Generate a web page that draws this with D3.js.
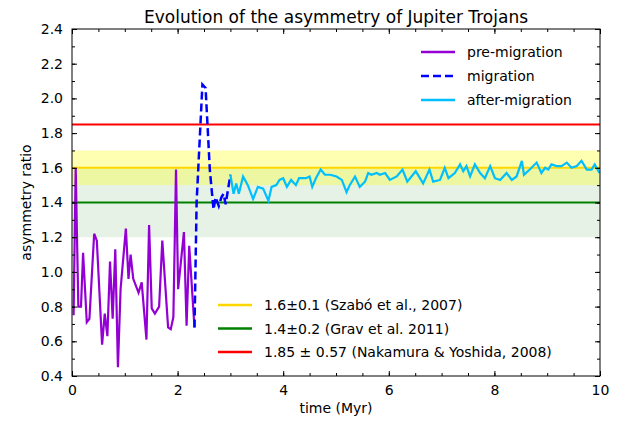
<!DOCTYPE html><html><head><meta charset="utf-8"><script src="https://cdn.jsdelivr.net/npm/d3@7"></script>
<style>body{margin:0;background:#fff}text{font-family:"DejaVu Sans",sans-serif}</style></head><body><svg id="c" width="630" height="421"></svg>
<script>
const preT=[0.03,0.07,0.12,0.17,0.21,0.28,0.33,0.42,0.47,0.57,0.62,0.67,0.72,0.77,0.82,0.87,0.92,1.02,1.07,1.11,1.16,1.26,1.32,1.41,1.46,1.51,1.57,1.65,1.71,1.82,1.87,1.92,1.97,2.01,2.12,2.17,2.22,2.32];
const preV=[0.75,1.60,0.80,0.80,1.11,0.71,0.73,1.22,1.18,0.58,0.76,0.63,1.06,0.73,1.13,0.45,0.90,1.25,0.96,1.10,0.96,0.88,0.94,0.61,1.27,0.79,0.76,0.80,1.18,0.68,0.67,0.74,1.59,0.90,1.23,0.69,1.15,0.68];
const migT=[2.32,2.36,2.47,2.53,2.61,2.68,2.72,2.78,2.83,2.87,2.91,3.00];
const migV=[0.68,1.40,2.08,2.06,1.59,1.36,1.43,1.38,1.43,1.45,1.39,1.56];
const aftT=[3.00,3.06,3.11,3.16,3.24,3.33,3.43,3.52,3.62,3.72,3.78,3.87,3.93,4.00,4.07,4.15,4.24,4.30,4.43,4.50,4.55,4.62,4.71,4.79,4.89,5.01,5.11,5.20,5.26,5.36,5.45,5.55,5.61,5.67,5.77,5.83,5.93,6.02,6.15,6.26,6.35,6.51,6.65,6.77,6.84,6.97,7.06,7.13,7.25,7.35,7.41,7.47,7.54,7.63,7.73,7.82,7.92,8.01,8.11,8.23,8.33,8.42,8.52,8.56,8.67,8.80,8.89,8.96,9.02,9.08,9.18,9.27,9.37,9.46,9.56,9.65,9.75,9.84,9.90,9.99];
const aftV=[1.56,1.45,1.51,1.45,1.55,1.50,1.42,1.49,1.48,1.41,1.49,1.50,1.53,1.54,1.49,1.53,1.50,1.54,1.54,1.55,1.49,1.54,1.59,1.56,1.56,1.55,1.53,1.46,1.50,1.55,1.49,1.52,1.57,1.56,1.57,1.56,1.57,1.53,1.55,1.59,1.52,1.58,1.51,1.59,1.52,1.53,1.60,1.54,1.57,1.62,1.58,1.61,1.55,1.62,1.57,1.54,1.61,1.54,1.53,1.57,1.53,1.55,1.64,1.56,1.59,1.63,1.57,1.60,1.59,1.62,1.61,1.61,1.63,1.60,1.61,1.64,1.59,1.59,1.62,1.57];
const refVals=[1.6,1.4,1.85];
const refErr=[0.1,0.2,null];
const refLabels=["1.6±0.1 (Szabó et al., 2007)","1.4±0.2 (Grav et al. 2011)","1.85 ± 0.57 (Nakamura & Yoshida, 2008)"];
const refColors=["#ffd700","green","red"];
const bandColors=["rgba(255,255,0,0.3)","rgba(0,128,0,0.1)"];
const L=72,R=600,T=29,B=376;
const svg=d3.select("#c");
const x=d3.scaleLinear().domain([0,10]).range([L,R]);
const y=d3.scaleLinear().domain([0.4,2.4]).range([B,T]);
[1,0].forEach(i=>svg.append("rect").attr("x",L).attr("width",R-L).attr("y",y(refVals[i]+refErr[i])).attr("height",y(refVals[i]-refErr[i])-y(refVals[i]+refErr[i])).attr("fill",bandColors[i]));
refVals.forEach((v,i)=>svg.append("line").attr("x1",L).attr("x2",R).attr("y1",y(v)).attr("y2",y(v)).attr("stroke",refColors[i]).attr("stroke-width",2));
const line=d3.line().x(d=>x(d[0])).y(d=>y(d[1]));
svg.append("path").attr("d",line(d3.zip(preT,preV))).attr("fill","none").attr("stroke","#9400d3").attr("stroke-width",2.2);
svg.append("path").attr("d",line(d3.zip(migT,migV))).attr("fill","none").attr("stroke","#0000ff").attr("stroke-width",2.5).attr("stroke-dasharray","8,4");
svg.append("path").attr("d",line(d3.zip(aftT,aftV))).attr("fill","none").attr("stroke","#00bfff").attr("stroke-width",2.2);
const FS=14;
svg.append("g").attr("transform",`translate(0,${B})`).call(d3.axisBottom(x).tickValues(d3.range(0,10.01,2)).tickSizeInner(-5).tickSizeOuter(0).tickPadding(9)).call(g=>{g.select(".domain").remove();g.selectAll("text").attr("font-size",FS);});
svg.append("g").attr("transform",`translate(0,${B})`).call(d3.axisBottom(x).tickValues(d3.range(0,10.01,0.5)).tickSizeInner(-3).tickSizeOuter(0).tickFormat("")).select(".domain").remove();
svg.append("g").attr("transform",`translate(0,${T})`).call(d3.axisTop(x).tickValues(d3.range(0,10.01,2)).tickSizeInner(-5).tickSizeOuter(0).tickFormat("")).select(".domain").remove();
svg.append("g").attr("transform",`translate(0,${T})`).call(d3.axisTop(x).tickValues(d3.range(0,10.01,0.5)).tickSizeInner(-3).tickSizeOuter(0).tickFormat("")).select(".domain").remove();
svg.append("g").attr("transform",`translate(${L},0)`).call(d3.axisLeft(y).tickValues(d3.range(0.4,2.41,0.2)).tickSizeInner(-5).tickSizeOuter(0).tickPadding(9).tickFormat(d3.format(".1f"))).call(g=>{g.select(".domain").remove();g.selectAll("text").attr("font-size",FS);});
svg.append("g").attr("transform",`translate(${L},0)`).call(d3.axisLeft(y).tickValues(d3.range(0.4,2.41,0.1)).tickSizeInner(-3).tickSizeOuter(0).tickFormat("")).select(".domain").remove();
svg.append("g").attr("transform",`translate(${R},0)`).call(d3.axisRight(y).tickValues(d3.range(0.4,2.41,0.2)).tickSizeInner(-5).tickSizeOuter(0).tickFormat("")).select(".domain").remove();
svg.append("g").attr("transform",`translate(${R},0)`).call(d3.axisRight(y).tickValues(d3.range(0.4,2.41,0.1)).tickSizeInner(-3).tickSizeOuter(0).tickFormat("")).select(".domain").remove();
svg.append("rect").attr("x",L).attr("y",T).attr("width",R-L).attr("height",B-T).attr("fill","none").attr("stroke","#000");
svg.append("text").attr("x",(L+R)/2).attr("y",23).attr("text-anchor","middle").attr("font-size",17).text("Evolution of the asymmetry of Jupiter Trojans");
svg.append("text").attr("x",(L+R)/2).attr("y",413).attr("text-anchor","middle").attr("font-size",14).text("time (Myr)");
svg.append("text").attr("transform",`translate(31,${(T+B)/2}) rotate(-90)`).attr("text-anchor","middle").attr("font-size",14).text("asymmetry ratio");
const lg=[["pre-migration","#9400d3",null],["migration","#0000ff","8,4"],["after-migration","#00bfff",null]];
lg.forEach((d,i)=>{const yy=52+i*24;svg.append("line").attr("x1",421).attr("x2",455).attr("y1",yy).attr("y2",yy).attr("stroke",d[1]).attr("stroke-width",2.5).attr("stroke-dasharray",d[2]);
svg.append("text").attr("x",467).attr("y",yy+5).attr("font-size",14).text(d[0]);});
refLabels.forEach((t,i)=>{const yy=305+i*23.5;svg.append("line").attr("x1",218).attr("x2",252).attr("y1",yy).attr("y2",yy).attr("stroke",refColors[i]).attr("stroke-width",2.5);
svg.append("text").attr("x",264).attr("y",yy+5).attr("font-size",14).text(t);});
</script></body></html>
